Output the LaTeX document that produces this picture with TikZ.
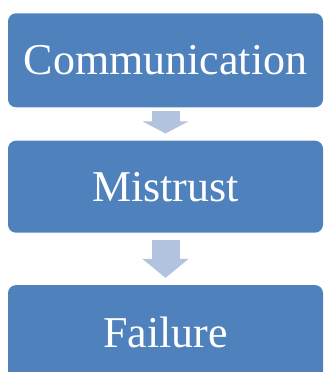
\documentclass[tikz,border=0pt]{standalone}
\usepackage{fontspec}
\setmainfont{Liberation Serif}
\usetikzlibrary{positioning}
\usetikzlibrary{arrows.meta}
\definecolor{boxblue}{RGB}{79,129,189}
\definecolor{flowblue}{RGB}{177,195,222}
\tikzset{
  stage/.style={fill=boxblue, rounded corners=8pt, minimum width=315pt, minimum height=94pt, inner sep=0pt, text=white, font=\fontsize{44}{50}\selectfont},
  flow/.style={draw=flowblue, line width=28pt, -{Triangle[width=45pt,length=12pt]}}
}

\begin{document}
\begin{tikzpicture}[x=1pt, y=1pt, node distance=33pt]
  \useasboundingbox (0,0) rectangle (324,372);
  \node[stage] (communication) at (165.5,311.7) {Communication};
  \node[stage, minimum height=92pt] (mistrust) [below=of communication] {Mistrust};
  \node[stage] (failure) [below=52pt of mistrust] {Failure};
  \draw[flow, shorten <=4pt, shorten >=7pt] (communication) -- (mistrust);
  \draw[flow, shorten <=7pt, shorten >=7pt, -{Triangle[width=45pt,length=19pt]}] (mistrust) -- (failure);
\end{tikzpicture}
\end{document}
